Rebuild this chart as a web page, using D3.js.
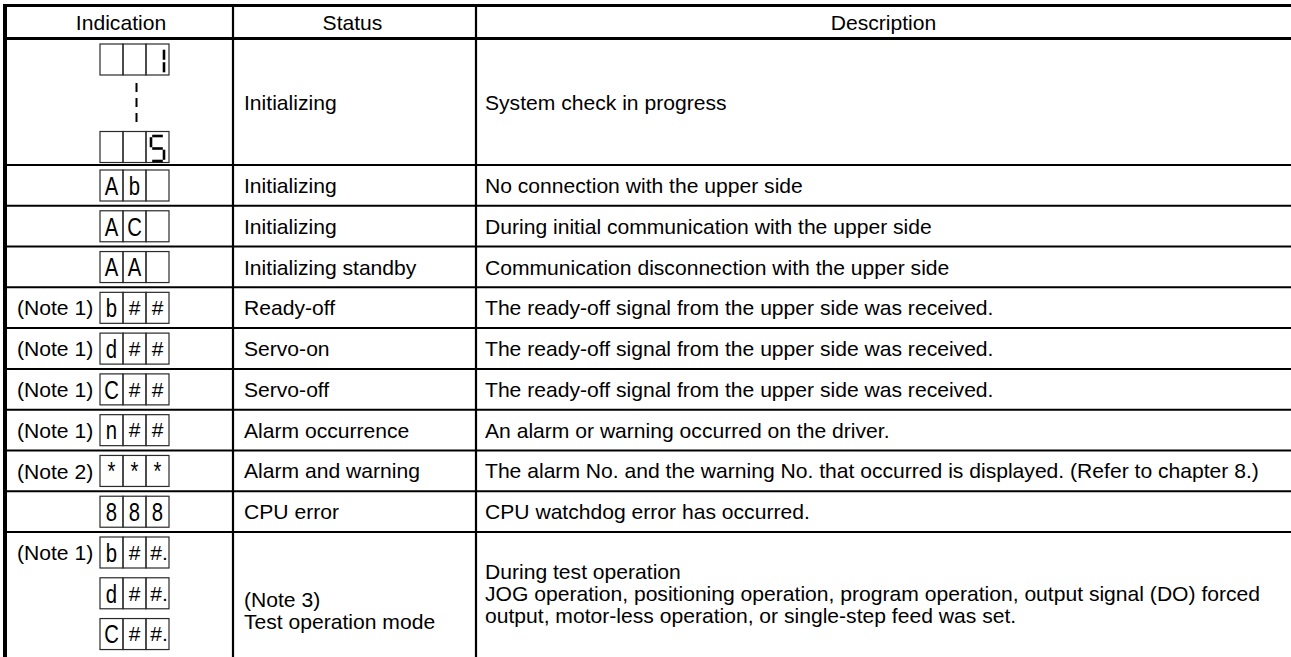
<!DOCTYPE html>
<html>
<head>
<meta charset="utf-8">
<script src="https://cdn.jsdelivr.net/npm/d3@7"></script>
<style>
  html, body { margin: 0; padding: 0; background: #fff; }
  svg { display: block; }
  text { font-family: "Liberation Sans", Arial, Helvetica, sans-serif; fill: #000; }
</style>
</head>
<body>
<svg id="chart" width="1291" height="657"></svg>
<script>
// ---------- data ----------
const headers = ["Indication", "Status", "Description"];
const rowSpans = [3, 1, 1, 1, 1, 1, 1, 1, 1, 1, 3];
const noteLabels = ["", "", "", "", "(Note 1)", "(Note 1)", "(Note 1)", "(Note 1)", "(Note 2)", "", "(Note 1)"];
const displays = [
  [["", "", "1"], ["", "", "5"]],
  [["A", "b", ""]],
  [["A", "C", ""]],
  [["A", "A", ""]],
  [["b", "#", "#"]],
  [["d", "#", "#"]],
  [["C", "#", "#"]],
  [["n", "#", "#"]],
  [["*", "*", "*"]],
  [["8", "8", "8"]],
  [["b", "#", "#."], ["d", "#", "#."], ["C", "#", "#."]]
];
const sevenSegmentRows = [0];
const sevenSegments = { "1": ["b", "c"], "5": ["a", "f", "g", "c", "d"] };
const statuses = [
  ["Initializing"],
  ["Initializing"],
  ["Initializing"],
  ["Initializing standby"],
  ["Ready-off"],
  ["Servo-on"],
  ["Servo-off"],
  ["Alarm occurrence"],
  ["Alarm and warning"],
  ["CPU error"],
  ["(Note 3)", "Test operation mode"]
];
const descriptions = [
  ["System check in progress"],
  ["No connection with the upper side"],
  ["During initial communication with the upper side"],
  ["Communication disconnection with the upper side"],
  ["The ready-off signal from the upper side was received."],
  ["The ready-off signal from the upper side was received."],
  ["The ready-off signal from the upper side was received."],
  ["An alarm or warning occurred on the driver."],
  ["The alarm No. and the warning No. that occurred is displayed. (Refer to chapter 8.)"],
  ["CPU watchdog error has occurred."],
  ["During test operation",
   "JOG operation, positioning operation, program operation, output signal (DO) forced",
   "output, motor-less operation, or single-step feed was set."]
];

// ---------- layout ----------
const W = 1291, H = 657;
const svg = d3.select("#chart");
const colEdges = [5, 233, 476, W];
const headerTop = 5.5, headerBottom = 38.5;

const cum = [0];
rowSpans.forEach(s => cum.push(cum[cum.length - 1] + s));
const y = d3.scaleLinear().domain([0, 3, 12]).range([39.5, 165, 532]);
const rows = rowSpans.map((s, i) => ({ i, top: y(cum[i]), bottom: y(cum[i + 1]), span: s }));

const bodyFont = 21.1;
const capHalf = 7.6;

// header text
svg.selectAll("text.hdr").data(headers).join("text")
  .attr("class", "hdr")
  .attr("x", (d, i) => (colEdges[i] + colEdges[i + 1]) / 2 + (i === 0 ? 2 : (i === 1 ? -2 : 0)))
  .attr("y", (headerTop + headerBottom) / 2 + capHalf)
  .attr("text-anchor", "middle")
  .attr("font-size", bodyFont)
  .text(d => d);

const lineGap = 22;
rows.forEach(r => {
  const mid = (r.top + r.bottom) / 2;
  // status
  const st = statuses[r.i];
  const stShift = st.length > 1 ? 17 : 0;
  st.forEach((t, k) => {
    svg.append("text")
      .attr("x", colEdges[1] + 11)
      .attr("y", mid + capHalf + stShift + (k - (st.length - 1) / 2) * lineGap)
      .attr("font-size", bodyFont)
      .text(t);
  });
  const ds = descriptions[r.i];
  ds.forEach((t, k) => {
    svg.append("text")
      .attr("x", colEdges[2] + 9)
      .attr("y", mid + capHalf + (k - (ds.length - 1) / 2) * lineGap)
      .attr("font-size", bodyFont)
      .text(t);
  });

  // indication boxes
  const boxes = displays[r.i];
  const boxLeft = 100, cellW = 23, boxH = 31;
  const unitH = (r.bottom - r.top) / r.span;
  const isSeg = sevenSegmentRows.includes(r.i);
  boxes.forEach((cells, b) => {
    let bt;
    if (isSeg) bt = b === 0 ? r.top + 4.5 : r.bottom - boxH - 2.5;
    else bt = r.top + 5 + b * unitH;
    const g = svg.append("g").attr("transform", `translate(${boxLeft},${bt})`);
    cells.forEach((c, j) => {
      const cx = j * cellW;
      g.append("rect")
        .attr("x", cx).attr("y", 0)
        .attr("width", cellW).attr("height", boxH)
        .attr("fill", "none").attr("stroke", "#2a2a2a").attr("stroke-width", 1.2);
      if (!c) return;
      if (isSeg) {
        const L = cx + 5, R = cx + 18, T = 4.5, B = 29.5, M = (T + B) / 2, gp = 1.2;
        const segs = {
          a: [[L + gp, T], [R - gp, T]],
          b: [[R, T + gp], [R, M - gp]],
          c: [[R, M + gp], [R, B - gp]],
          d: [[L + gp, B], [R - gp, B]],
          e: [[L, M + gp], [L, B - gp]],
          f: [[L, T + gp], [L, M - gp]],
          g: [[L + gp, M], [R - gp, M]]
        };
        sevenSegments[c].forEach(s => {
          g.append("line")
            .attr("x1", segs[s][0][0]).attr("y1", segs[s][0][1])
            .attr("x2", segs[s][1][0]).attr("y2", segs[s][1][1])
            .attr("stroke", "#000").attr("stroke-width", 2.6);
        });
      } else if (c.startsWith("#")) {
        g.append("text")
          .attr("x", cx + cellW / 2 + (c.length > 1 ? 1.5 : 0))
          .attr("y", boxH / 2 + 7.3)
          .attr("text-anchor", "middle")
          .attr("font-size", 21)
          .text(c);
      } else {
        g.append("text")
          .attr("transform", `translate(${cx + cellW / 2},${boxH / 2 + 9.3}) scale(0.78,1)`)
          .attr("text-anchor", "middle")
          .attr("font-size", 26)
          .text(c);
      }
    });
    if (b === 0 && noteLabels[r.i]) {
      svg.append("text")
        .attr("x", 17)
        .attr("y", bt + boxH / 2 + capHalf)
        .attr("font-size", bodyFont)
        .text(noteLabels[r.i]);
    }
  });
  if (isSeg) {
    const topB = r.top + 4.5 + boxH, botB = r.bottom - boxH - 2.5;
    svg.append("line")
      .attr("x1", 136.5).attr("x2", 136.5)
      .attr("y1", topB + 8).attr("y2", botB - 4)
      .attr("stroke", "#000").attr("stroke-width", 2)
      .attr("stroke-dasharray", "9,6");
  }
});

// ---------- grid lines ----------
const rowLines = rows.slice(1).map(r => r.top);
svg.selectAll("line.row").data(rowLines).join("line")
  .attr("class", "row")
  .attr("x1", colEdges[0]).attr("x2", W)
  .attr("y1", d => d).attr("y2", d => d)
  .attr("stroke", "#000").attr("stroke-width", 2);

svg.selectAll("line.hline").data([headerTop, headerBottom]).join("line")
  .attr("class", "hline")
  .attr("x1", colEdges[0] - 2).attr("x2", W)
  .attr("y1", d => d).attr("y2", d => d)
  .attr("stroke", "#000").attr("stroke-width", 3);

svg.selectAll("line.col").data(colEdges.slice(1, 3)).join("line")
  .attr("class", "col")
  .attr("x1", d => d).attr("x2", d => d)
  .attr("y1", headerTop).attr("y2", H)
  .attr("stroke", "#000").attr("stroke-width", 2.2);

svg.append("line")
  .attr("x1", colEdges[0]).attr("x2", colEdges[0])
  .attr("y1", headerTop - 1.5).attr("y2", H)
  .attr("stroke", "#000").attr("stroke-width", 4);
</script>
</body>
</html>
